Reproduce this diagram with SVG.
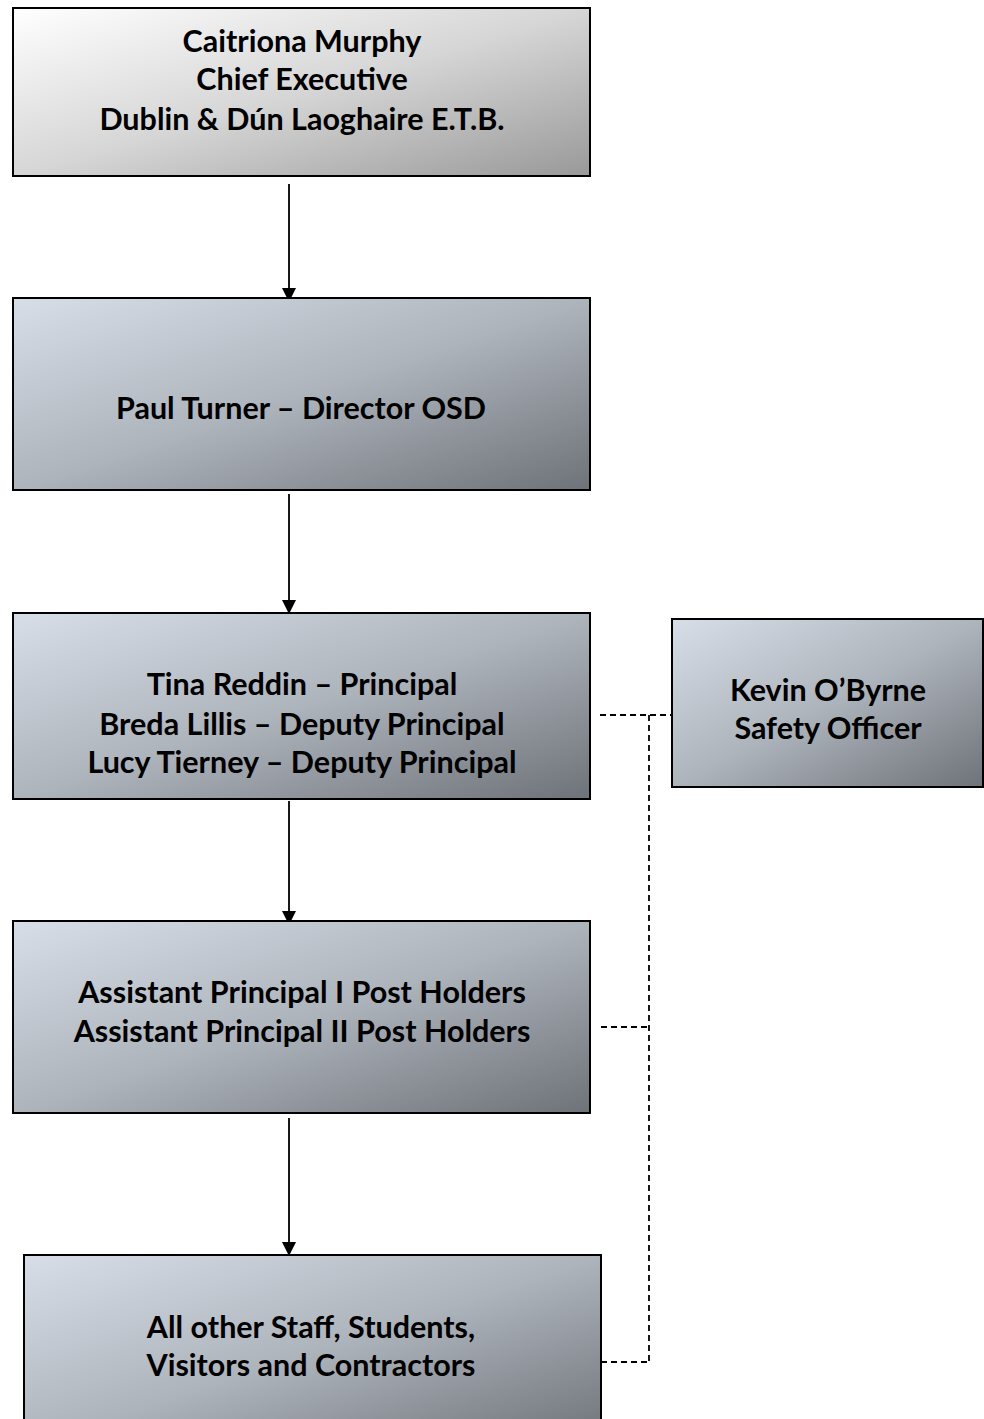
<svg xmlns="http://www.w3.org/2000/svg" width="984" height="1419" viewBox="0 0 984 1419">
<defs>
<linearGradient id="gGray" x1="0" y1="0" x2="1" y2="1">
<stop offset="0" stop-color="#ffffff"/>
<stop offset="0.5" stop-color="#d6d6d6"/>
<stop offset="1" stop-color="#999999"/>
</linearGradient>
<linearGradient id="gBlue" x1="0" y1="0" x2="1" y2="1">
<stop offset="0" stop-color="#d7dee7"/>
<stop offset="0.5" stop-color="#aeb4bc"/>
<stop offset="1" stop-color="#6e7279"/>
</linearGradient>
<marker id="arr" markerWidth="14" markerHeight="14" refX="14" refY="7" orient="auto" markerUnits="userSpaceOnUse" viewBox="0 0 14 14">
<path d="M0,0 L14,7 L0,14 Z" fill="#000"/>
</marker>
</defs>
<style>
.box{stroke:#000;stroke-width:2}
.t{font-family:Lato,"Liberation Sans",sans-serif;font-weight:bold;font-size:30.5px;fill:#000;text-anchor:middle}
.ar{stroke:#000;stroke-width:1.8;fill:none}
.da{stroke:#000;stroke-width:1.8;fill:none;stroke-dasharray:6,4}
</style>
<rect width="984" height="1419" fill="#fff"/>
<g id="connectors">
<line class="ar" x1="289" y1="184" x2="289" y2="302" marker-end="url(#arr)"/>
<line class="ar" x1="289" y1="494" x2="289" y2="614" marker-end="url(#arr)"/>
<line class="ar" x1="289" y1="801" x2="289" y2="925" marker-end="url(#arr)"/>
<line class="ar" x1="289" y1="1118" x2="289" y2="1256" marker-end="url(#arr)"/>
<path class="da" d="M600,715 H672"/>
<path class="da" d="M649,715 V1362"/>
<path class="da" d="M601,1027 H649"/>
<path class="da" d="M601,1362 H649"/>
</g>
<g id="ceo">
<rect class="box" x="13" y="8" width="577" height="168" fill="url(#gGray)"/>
<text class="t" x="302" y="52">Caitriona Murphy</text>
<text class="t" x="302" y="90">Chief Executive</text>
<text class="t" x="302" y="130">Dublin &amp; Dún Laoghaire E.T.B.</text>
</g>
<g id="director">
<rect class="box" x="13" y="298" width="577" height="192" fill="url(#gBlue)"/>
<text class="t" x="301" y="419">Paul Turner – Director OSD</text>
</g>
<g id="principal">
<rect class="box" x="13" y="613" width="577" height="186" fill="url(#gBlue)"/>
<text class="t" x="302" y="695">Tina Reddin – Principal</text>
<text class="t" x="302" y="735">Breda Lillis – Deputy Principal</text>
<text class="t" x="302" y="773">Lucy Tierney – Deputy Principal</text>
</g>
<g id="safety">
<rect class="box" x="672" y="619" width="311" height="168" fill="url(#gBlue)"/>
<text class="t" x="828" y="701">Kevin O’Byrne</text>
<text class="t" x="828" y="739">Safety Officer</text>
</g>
<g id="assistants">
<rect class="box" x="13" y="921" width="577" height="192" fill="url(#gBlue)"/>
<text class="t" x="302" y="1003">Assistant Principal I Post Holders</text>
<text class="t" x="302" y="1042">Assistant Principal II Post Holders</text>
</g>
<g id="staff">
<rect class="box" x="24" y="1255" width="577" height="190" fill="url(#gBlue)"/>
<text class="t" x="311" y="1338">All other Staff, Students,</text>
<text class="t" x="311" y="1376">Visitors and Contractors</text>
</g>
</svg>
